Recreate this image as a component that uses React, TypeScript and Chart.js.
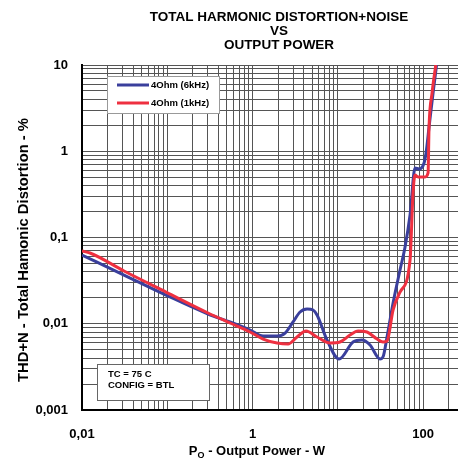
import React, { useEffect, useRef } from 'react';
import { Chart, registerables } from 'chart.js';

Chart.register(...registerables);

const titleLines = ['TOTAL HARMONIC DISTORTION+NOISE', 'VS', 'OUTPUT POWER'];
const yTitle = 'THD+N - Total Hamonic Distortion - %';
const xTitleMain = 'P';
const xTitleSub = 'O';
const xTitleRest = ' - Output Power - W';
const noteLines = ['TC = 75 C', 'CONFIG = BTL'];

const seriesLabels = ['4Ohm (6kHz)', '4Ohm (1kHz)'];
const seriesColors = ['#3a3f9c', '#ee3040'];

const blueX = [0.01, 0.0311, 0.0967, 0.301, 0.545, 0.935, 1.33, 1.94, 2.41, 2.99, 3.61, 4.36, 5.13, 5.71, 7.48, 10.35, 15.1, 19.2, 23.9, 31.3, 33.9, 37.8, 44.5, 53.7, 61.5, 70.4, 80.6, 89.8, 102.8, 108.4, 117.6, 131, 144];
const blueY = [0.0627, 0.0367, 0.0215, 0.01297, 0.01048, 0.00846, 0.00721, 0.00721, 0.00781, 0.01048, 0.01368, 0.01483, 0.01443, 0.01263, 0.00648, 0.0039, 0.00614, 0.00648, 0.00567, 0.0039, 0.00412, 0.00702, 0.0174, 0.042, 0.0776, 0.1824, 0.64, 0.622, 0.731, 0.954, 1.91, 4.74, 10];

const redX = [0.01, 0.01241, 0.0311, 0.0967, 0.301, 0.545, 0.935, 1.33, 1.94, 2.61, 3.33, 4.24, 5.71, 8.11, 10.6, 13.9, 17.3, 22.0, 28.9, 33.9, 37.8, 44.5, 53.7, 70.4, 76.3, 80.6, 87.3, 105.5, 114.5, 117.6, 127.6, 141];
const redY = [0.0697, 0.0661, 0.0409, 0.0233, 0.01333, 0.0102, 0.00802, 0.00665, 0.00598, 0.00582, 0.00702, 0.00824, 0.00702, 0.00598, 0.00614, 0.0074, 0.00824, 0.00802, 0.00665, 0.00614, 0.0063, 0.01443, 0.0233, 0.0548, 0.328, 0.53, 0.503, 0.503, 0.56, 1.91, 4.74, 10];

const xMin = 0.01;
const xMax = 257;
const yMin = 0.001;
const yMax = 10;
const xLabelValues = [0.01, 1, 100];
const xLabelTexts = ['0,01', '1', '100'];
const yLabelValues = [0.001, 0.01, 0.1, 1, 10];
const yLabelTexts = ['0,001', '0,01', '0,1', '1', '10'];

const FONT = '"Liberation Sans", Arial, Helvetica, sans-serif';

function logTicks(min: number, max: number) {
  const out: { value: number }[] = [];
  const k0 = Math.floor(Math.log10(min));
  const k1 = Math.ceil(Math.log10(max));
  for (let k = k0; k <= k1; k++) {
    for (let d = 1; d <= 9; d++) {
      const v = parseFloat((d * Math.pow(10, k)).toPrecision(6));
      if (v >= min * 0.9999 && v <= max * 1.0001) out.push({ value: v });
    }
  }
  return out;
}

function labelFor(value: number, vals: number[], texts: string[]) {
  for (let i = 0; i < vals.length; i++) {
    if (Math.abs(Math.log10(value) - Math.log10(vals[i])) < 1e-6) return texts[i];
  }
  return '';
}

const overlayPlugin = {
  id: 'overlay',
  afterDraw(chart: any) {
    const ctx = chart.ctx as CanvasRenderingContext2D;
    ctx.save();
    ctx.fillStyle = '#000';
    ctx.textAlign = 'center';
    ctx.textBaseline = 'middle';
    ctx.font = `bold 13.5px ${FONT}`;
    titleLines.forEach((t, i) => ctx.fillText(t, 279, 17 + i * 14));

    // y title
    ctx.save();
    ctx.translate(24, 250);
    ctx.rotate(-Math.PI / 2);
    ctx.font = `bold 14.8px ${FONT}`;
    ctx.fillText(yTitle, 0, 0);
    ctx.restore();

    // x title with subscript
    ctx.textAlign = 'left';
    ctx.font = `bold 13px ${FONT}`;
    const wP = ctx.measureText(xTitleMain).width;
    const wR = ctx.measureText(xTitleRest).width;
    ctx.font = `bold 9px ${FONT}`;
    const wS = ctx.measureText(xTitleSub).width;
    const total = wP + wS + wR;
    const x0 = 257 - total / 2;
    ctx.font = `bold 13px ${FONT}`;
    ctx.fillText(xTitleMain, x0, 451);
    ctx.font = `bold 9px ${FONT}`;
    ctx.fillText(xTitleSub, x0 + wP, 456);
    ctx.font = `bold 13px ${FONT}`;
    ctx.fillText(xTitleRest, x0 + wP + wS, 451);

    // legend box
    ctx.fillStyle = '#fff';
    ctx.fillRect(107, 76, 112, 37);
    ctx.strokeStyle = '#999';
    ctx.lineWidth = 1;
    ctx.strokeRect(107.5, 76.5, 112, 37);
    ctx.font = `bold 9.5px ${FONT}`;
    seriesLabels.forEach((lab, i) => {
      const y = 85 + i * 18;
      ctx.strokeStyle = seriesColors[i];
      ctx.lineWidth = 3;
      ctx.beginPath();
      ctx.moveTo(117, y);
      ctx.lineTo(149, y);
      ctx.stroke();
      ctx.fillStyle = '#000';
      ctx.fillText(lab, 151, y);
    });

    // note box
    ctx.fillStyle = '#fff';
    ctx.fillRect(97, 364, 112, 36);
    ctx.strokeStyle = '#666';
    ctx.lineWidth = 1;
    ctx.strokeRect(97.5, 364.5, 112, 36);
    ctx.fillStyle = '#000';
    ctx.font = `bold 9.5px ${FONT}`;
    noteLines.forEach((t, i) => ctx.fillText(t, 108, 374 + i * 11.5));
    ctx.restore();
  },
};

export default function App() {
  const ref = useRef<HTMLCanvasElement>(null);
  useEffect(() => {
    if (!ref.current) return;
    const chart = new Chart(ref.current, {
      type: 'line',
      data: {
        datasets: [
          {
            label: seriesLabels[0],
            data: blueX.map((x, i) => ({ x, y: blueY[i] })),
            borderColor: seriesColors[0],
            borderWidth: 3,
            pointRadius: 0,
            cubicInterpolationMode: 'monotone',
            fill: false,
            order: 1,
          },
          {
            label: seriesLabels[1],
            data: redX.map((x, i) => ({ x, y: redY[i] })),
            borderColor: seriesColors[1],
            borderWidth: 3,
            pointRadius: 0,
            cubicInterpolationMode: 'monotone',
            fill: false,
            order: 0,
          },
        ],
      },
      options: {
        animation: false,
        responsive: true,
        maintainAspectRatio: false,
        layout: { padding: { top: 65, left: 0, right: 0, bottom: 0 } },
        plugins: { legend: { display: false }, tooltip: { enabled: false }, title: { display: false } },
        scales: {
          x: {
            type: 'logarithmic',
            min: xMin,
            max: xMax,
            afterBuildTicks: (s: any) => { s.ticks = logTicks(xMin, xMax); },
            afterFit: (s: any) => { s.height = 54; s.paddingRight = 0; },
            ticks: {
              autoSkip: false,
              maxRotation: 0,
              padding: 0,
              color: '#000',
              font: { family: FONT, size: 13, weight: 'bold' },
              callback: (v: any) => labelFor(Number(v), xLabelValues, xLabelTexts),
            },
            grid: { color: '#555', lineWidth: 1, drawTicks: true, tickLength: 17, tickColor: 'rgba(0,0,0,0)' },
            border: { color: '#000', width: 2 },
          },
          y: {
            type: 'logarithmic',
            min: yMin,
            max: yMax,
            afterBuildTicks: (s: any) => { s.ticks = logTicks(yMin, yMax); },
            afterFit: (s: any) => { s.width = 82; },
            ticks: {
              autoSkip: false,
              padding: 14,
              color: '#000',
              font: { family: FONT, size: 13, weight: 'bold' },
              callback: (v: any) => labelFor(Number(v), yLabelValues, yLabelTexts),
            },
            grid: { color: '#555', lineWidth: 1, drawTicks: false },
            border: { color: '#000', width: 2 },
          },
        },
      },
      plugins: [overlayPlugin],
    } as any);
    return () => chart.destroy();
  }, []);
  return (
    <div style={{ position: 'fixed', left: 0, top: 0, width: 458, height: 464, background: '#fff' }}>
      <canvas ref={ref} />
    </div>
  );
}
